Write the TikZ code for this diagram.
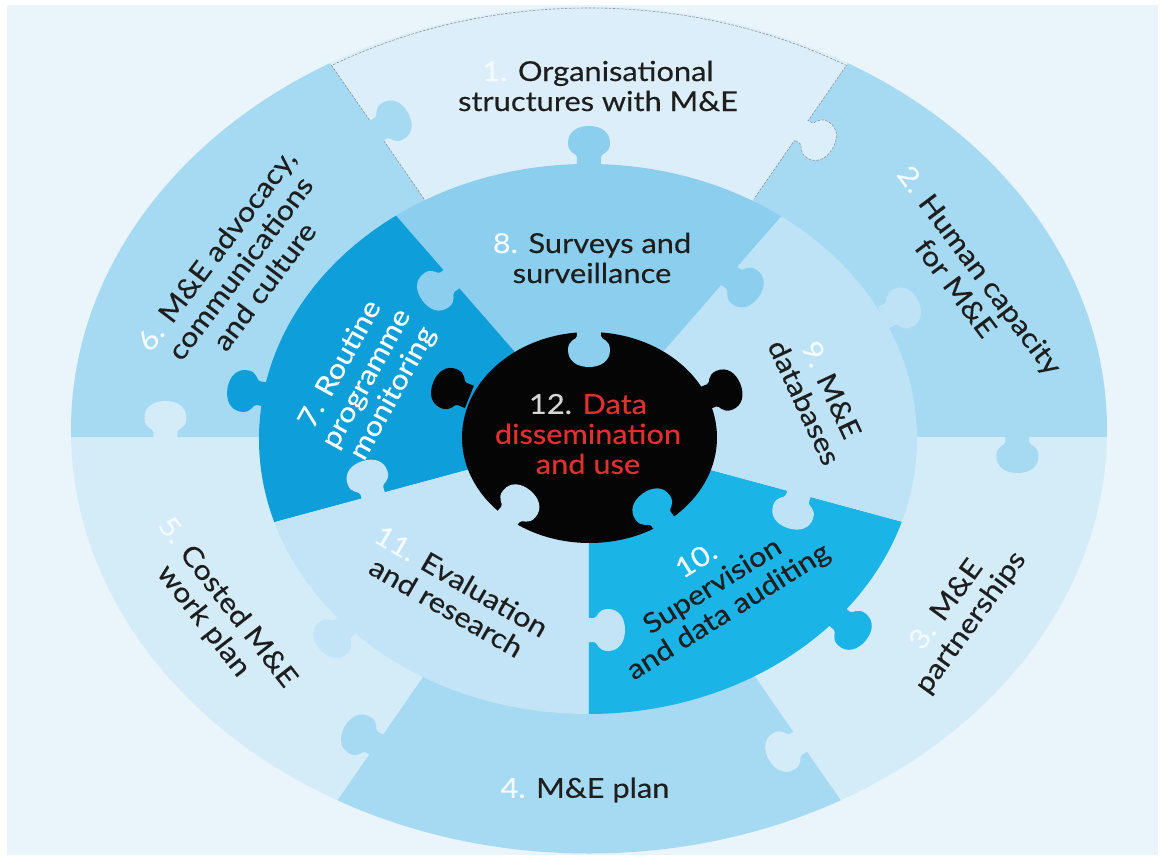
\documentclass[tikz,border=0pt]{standalone}
\usepackage{fontspec}
\setmainfont{Lato}[FakeStretch=1.12, FakeBold=0.3]

\definecolor{bgc}{HTML}{E9F4FB}
\definecolor{pone}{HTML}{DBEEF9}
\definecolor{pmid}{HTML}{A6D9F2}
\definecolor{plight}{HTML}{D4EBF8}
\definecolor{cseven}{HTML}{0E9EDA}
\definecolor{ceight}{HTML}{8BCEEE}
\definecolor{cnine}{HTML}{BEE3F6}
\definecolor{cten}{HTML}{1BB4E7}
\definecolor{celeven}{HTML}{C2E4F6}
\definecolor{blk}{HTML}{050505}
\definecolor{txt}{HTML}{1E1E1E}
\definecolor{numc}{HTML}{F4FAFE}
\definecolor{numg}{HTML}{D6D6D6}
\definecolor{redc}{HTML}{E0312E}
\definecolor{dashc}{HTML}{8A9296}

\newcommand{\numlbl}[1]{\textcolor{numc}{#1}}

\tikzset{
  knob/.pic={\fill[#1] (-3,-12) -- (5,-12) .. controls (9,-12) and (8,-21) .. (19,-21)
     .. controls (30,-21) and (36,-12) .. (36,0) .. controls (36,12) and (30,21) .. (19,21)
     .. controls (8,21) and (9,12) .. (5,12) -- (-3,12) -- cycle;},
  knobline/.pic={\draw[#1] (0,-12) -- (5,-12) .. controls (9,-12) and (8,-21) .. (19,-21)
     .. controls (30,-21) and (36,-12) .. (36,0) .. controls (36,12) and (30,21) .. (19,21)
     .. controls (8,21) and (9,12) .. (5,12) -- (0,12);},
  rim/.style={draw=dashc, line width=0.6pt, dash pattern=on 2.5pt off 1.5pt},
  lbl/.style={align=center, inner sep=0pt, text=txt, font=\fontsize{27.5}{30}\selectfont}
}

\begin{document}
\begin{tikzpicture}[x=1pt,y=1pt]
\useasboundingbox (-589,-418) rectangle (576,437);
\fill[white] (-589,-418) rectangle (576,437);
\fill[bgc] (-582,-418) rectangle (569,432);

% outer ring: six pieces
\begin{scope}
  \clip (0,7) ellipse [x radius=518, y radius=423.5];
  \begin{scope}[xscale=1.2]
    \fill[pone]   (0,0) -- (60:900) -- (90:900) -- (120:900) -- cycle;
    \fill[pmid]   (0,0) -- (0:900) -- (30:900) -- (60:900) -- cycle;
    \fill[plight] (0,0) -- (-60:900) -- (-30:900) -- (0:900) -- cycle;
    \fill[pmid]   (0,0) -- (-120:900) -- (-90:900) -- (-60:900) -- cycle;
    \fill[plight] (0,0) -- (180:900) -- (210:900) -- (240:900) -- cycle;
    \fill[pmid]   (0,0) -- (120:900) -- (150:900) -- (180:900) -- cycle;
  \end{scope}
\end{scope}

\begin{scope}[xscale=1.2]
  % dashed rim of the top piece
  \draw[rim] (120:275) -- (120:429) arc[start angle=120, end angle=60, radius=429] -- (60:275);
  \path (60:354) pic[rotate=-30] {knob=pone};
  \path (60:354) pic[rotate=-30] {knobline=rim};
  % knobs between outer pieces
  \path (120:354) pic[rotate=30] {knob=pmid};
  \path (0:357) pic[rotate=-90] {knob=pmid};
  \path (-60:352) pic[rotate=-150] {knob=plight};
  \path (-120:355) pic[rotate=150] {knob=pmid};
  \path (180:353) pic[rotate=90] {knob=plight};
\end{scope}

% inner ring: five pieces
\begin{scope}
  \clip (-1,-2) ellipse [x radius=329, y radius=275];
  \begin{scope}[xscale=1.2]
    \fill[ceight]   (0,0) -- (54:900) -- (90:900) -- (126:900) -- cycle;
    \fill[cseven]   (0,0) -- (126:900) -- (162:900) -- (198:900) -- cycle;
    \fill[celeven]  (0,0) -- (198:900) -- (234:900) -- (270:900) -- cycle;
    \fill[cten]     (0,0) -- (270:900) -- (306:900) -- (342:900) -- cycle;
    \fill[cnine]    (0,0) -- (342:900) -- (18:900) -- (54:900) -- cycle;
  \end{scope}
\end{scope}

\begin{scope}[xscale=1.2]
  % knobs between inner pieces
  \path (54:199) pic[rotate=-36] {knob=ceight};
  \path (126:195) pic[rotate=216] {knob=ceight};
  \path (-18:184) pic[rotate=-108] {knob=cnine};
  \path (-90:193) pic[rotate=0] {knob=celeven};
  \path (198:189) pic[rotate=108] {knob=celeven};
  % knobs from the inner ring into the outer ring
  \path (90:275) pic[rotate=90] {knob=ceight};
  \path (171:275) pic[rotate=171] {knob=cseven};
  \path (26:275) pic[rotate=26] {knob=cnine};
  \path (-41:275) pic[rotate=-41] {knob=cten};
  \path (-137:276) pic[rotate=-137] {knob=celeven};
\end{scope}

% centre piece
\fill[blk] (0.5,-0.5) ellipse [x radius=127.5, y radius=105.5];
\begin{scope}[xscale=1.2]
  \path (22:106) pic[rotate=22] {knob=blk};
  \path (158:110) pic[rotate=158] {knob=blk};
  \path (90:106) pic[rotate=-90] {knob=ceight};
  \path (-130:106) pic[rotate=50] {knob=celeven};
  \path (-54:106) pic[rotate=126] {knob=cten};
\end{scope}

% labels
\node[lbl] (t1) at (9,351) {\numlbl{1.} Organisational\\structures with M\&E};
\node[lbl, rotate=-53] (t2) at (379,158) {\numlbl{2.} Human capacity\\for M\&E};
\node[lbl, rotate=54] (t3) at (370,-177) {\numlbl{3.} M\&E\\partnerships};
\node[lbl] (t4) at (-4,-353) {\numlbl{4.} M\&E plan};
\node[lbl, rotate=-52] (t5) at (-374,-175) {\numlbl{5.} Costed M\&E\\work plan};
\node[lbl, rotate=53] (t6) at (-349,169) {\numlbl{6.} M\&E advocacy,\\communications\\and culture};
\node[lbl, rotate=61, text=white] (t7) at (-222,58) {7. Routine\\programme\\monitoring};
\node[lbl] (t8) at (3,179) {\numlbl{8.} Surveys and\\surveillance};
\node[lbl, rotate=-65] (t9) at (229,41) {\numlbl{9.} M\&E\\databases};
\node[lbl, rotate=32] (t10) at (124,-150) {\numlbl{10.}\\Supervision\\and data auditing};
\node[lbl, rotate=-30] (t11) at (-135,-157) {\numlbl{11.} Evaluation\\and research};
\node[lbl, text=redc] (t12) at (-1,3) {\textcolor{numg}{12.} Data\\dissemination\\and use};
\end{tikzpicture}
\end{document}
